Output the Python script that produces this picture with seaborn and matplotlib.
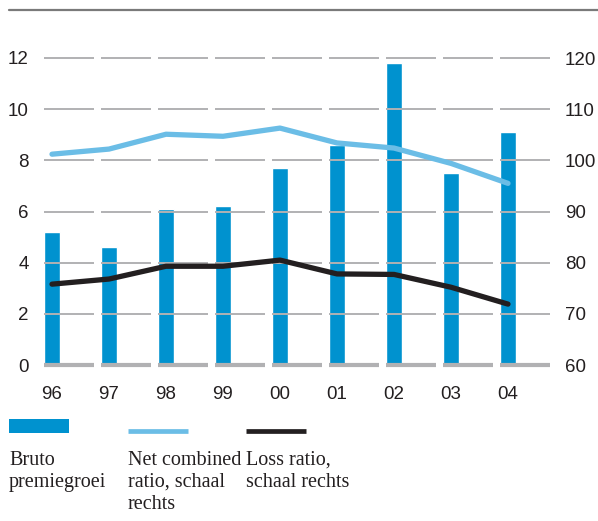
import numpy as np
import pandas as pd
import matplotlib
matplotlib.use("Agg")
import matplotlib.pyplot as plt
from matplotlib.lines import Line2D
from matplotlib.patches import Rectangle
import seaborn as sns

# Data
years = ["96", "97", "98", "99", "00", "01", "02", "03", "04"]
bruto_premiegroei = [5.2, 4.6, 6.1, 6.2, 7.7, 8.6, 11.8, 7.5, 9.1]
net_combined_ratio = [101.2, 102.2, 105.1, 104.7, 106.3, 103.4, 102.4, 99.4, 95.5]
loss_ratio = [75.8, 76.8, 79.3, 79.3, 80.5, 77.8, 77.7, 75.2, 71.9]
left_ticks = [0, 2, 4, 6, 8, 10, 12]
right_ticks = [60, 70, 80, 90, 100, 110, 120]

BAR = "#0092cf"
LIGHT = "#6bbde6"
DARK = "#231f20"
GRID = "#b1b1b3"
TEXT = "#231f20"

sns.set_theme(style="white")
plt.rcParams["font.family"] = ["Liberation Sans", "DejaVu Sans"]

W, H = 598, 521
fig = plt.figure(figsize=(W / 100, H / 100), dpi=100)
x0, x1, ytop, ybot = 44, 551, 58, 365
ax = fig.add_axes([x0 / W, (H - ybot) / H, (x1 - x0) / W, (ybot - ytop) / H])

df = pd.DataFrame({"jaar": years, "groei": bruto_premiegroei})
pos = np.arange(len(years))
bw = 16 / 57
sns.barplot(data=df, x="jaar", y="groei", color=BAR, width=bw, ax=ax,
            saturation=1, zorder=2)

# Gridline segments per category cell, drawn over the bars
seg_left = pos - bw / 2
seg_right = seg_left + 50 / 57
for t in left_ticks:
    lw = 3 if t == 0 else 1.4
    for a, b in zip(seg_left, seg_right):
        ax.hlines(t, a, b, color=GRID, lw=lw, zorder=4, clip_on=False)

ax.set_xlim((x0 - 52) / 57, (x1 - 52) / 57)
ax.set_ylim(0, 12)
ax.set_yticks(left_ticks)
ax.set_yticklabels([str(t) for t in left_ticks])
ax.set_xlabel("")
ax.set_ylabel("")
ax.tick_params(axis="y", length=0, pad=11, labelsize=13.5, labelcolor=TEXT)
ax.tick_params(axis="x", length=0, pad=15, labelsize=13.5, labelcolor=TEXT)
for s in ax.spines.values():
    s.set_visible(False)
for p in ax.patches:
    p.set_clip_on(False)

ax2 = ax.twinx()
lines = pd.DataFrame({"pos": pos, "ncr": net_combined_ratio, "lr": loss_ratio})
sns.lineplot(data=lines, x="pos", y="ncr", color=LIGHT, lw=3.8, ax=ax2,
             zorder=4, clip_on=False)
sns.lineplot(data=lines, x="pos", y="lr", color=DARK, lw=3.8, ax=ax2,
             zorder=5, clip_on=False)
ax2.set_ylim(60, 120)
ax2.set_yticks(right_ticks)
ax2.set_yticklabels([str(t) for t in right_ticks])
ax2.set_ylabel("")
ax2.set_xlabel("")
ax2.tick_params(axis="y", length=0, pad=10, labelsize=13.5, labelcolor=TEXT)
for s in ax2.spines.values():
    s.set_visible(False)
ax.set_xlim((x0 - 52) / 57, (x1 - 52) / 57)

# Top rule
fig.add_artist(Line2D([9 / W, 1.0], [(H - 10) / H] * 2, color="#7a7a7a", lw=1.6,
                      transform=fig.transFigure))

# Legend
fig.add_artist(Rectangle((9 / W, (H - 433) / H), 60 / W, 14 / H,
                         color=BAR, transform=fig.transFigure, lw=0))
fig.add_artist(Line2D([128 / W, 188 / W], [(H - 431) / H] * 2, color=LIGHT,
                      lw=3.4, solid_capstyle="butt", transform=fig.transFigure))
fig.add_artist(Line2D([246 / W, 306 / W], [(H - 431) / H] * 2, color=DARK,
                      lw=3.4, solid_capstyle="butt", transform=fig.transFigure))

serif = ["Liberation Serif", "DejaVu Serif"]
for xp, txt in [(9, "Bruto\npremiegroei"),
                (128, "Net combined\nratio, schaal\nrechts"),
                (246, "Loss ratio,\nschaal rechts")]:
    fig.text(xp / W, (H - 451) / H, txt, family=serif, fontsize=14.5,
             color=TEXT, va="top", ha="left", linespacing=1.2)

fig.savefig("out.png", dpi=100)
